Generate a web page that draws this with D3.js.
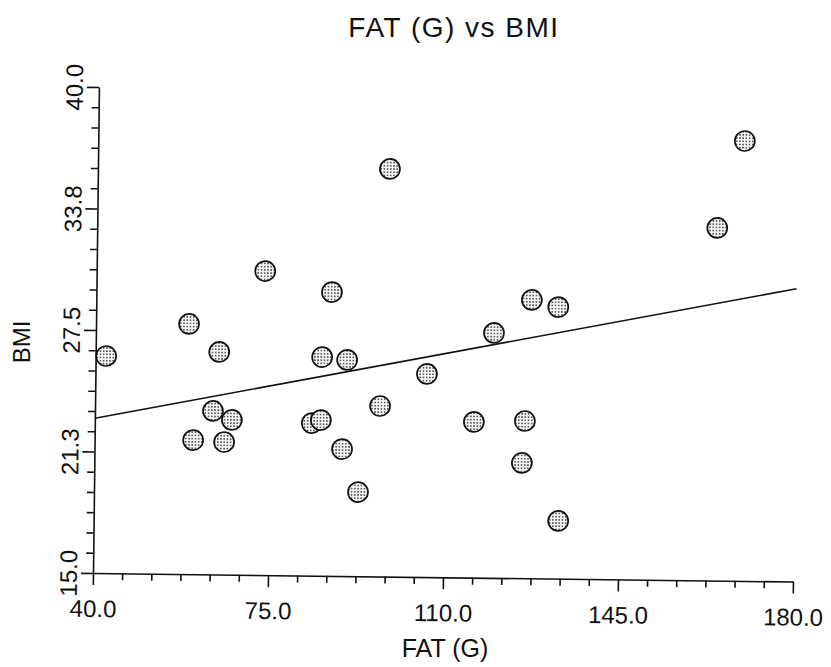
<!DOCTYPE html>
<html>
<head>
<meta charset="utf-8">
<script src="https://cdn.jsdelivr.net/npm/d3@7"></script>
<style>
  html, body { margin: 0; padding: 0; background: #fff; }
  svg { display: block; }
  text { font-family: "Liberation Sans", Arial, Helvetica, sans-serif; fill: #111; }
</style>
</head>
<body>
<div id="chart"></div>
<script>
// ── DATA ─────────────────────────────────────────────────────────────────────
const fatValues = [42.1, 58.6, 59.7, 63.6, 64.7, 65.9, 67.4, 73.7, 83.4, 85.2, 85.3, 87.1, 89.5, 90.3,
                   92.8, 97.0, 98.4, 106.3, 115.8, 119.6, 125.5, 126.0, 127.1, 132.4, 132.9, 164.0, 169.3];
const bmiValues = [26.17, 27.87, 21.90, 23.41, 26.45, 21.82, 22.96, 30.64, 22.85, 23.01, 26.25, 29.60, 21.53, 26.12,
                   19.33, 23.77, 35.97, 25.45, 23.01, 27.60, 20.93, 23.09, 29.32, 28.97, 17.97, 33.14, 37.63];

// fitted line (ends at the axis limits)
const fitFat = [40, 180];
const fitBmi = [22.96, 30.06];

const xTicks      = [40, 75, 110, 145, 180];
const yTicks      = [15, 21.25, 27.5, 33.75, 40];
const yTickLabels = ['15.0', '21.3', '27.5', '33.8', '40.0'];

// ── DIMENSIONS ───────────────────────────────────────────────────────────────
const W = 831, H = 667;
const margin = { top: 87, right: 38, bottom: 94, left: 93 };
const width  = W - margin.left - margin.right;   // 700
const height = H - margin.top  - margin.bottom;  // 486
const TILT   = 0.7;  // the scan sits slightly rotated

const svg = d3.select('#chart')
  .append('svg')
    .attr('width', W)
    .attr('height', H);

const defs = svg.append('defs');
const pat = defs.append('pattern')
  .attr('id', 'stipple')
  .attr('patternUnits', 'userSpaceOnUse')
  .attr('width', 3.2)
  .attr('height', 3.2);
pat.append('rect').attr('width', 3.2).attr('height', 3.2).attr('fill', '#f4f4f4');
pat.append('circle').attr('cx', 1.6).attr('cy', 1.6).attr('r', 0.85).attr('fill', '#333');

const g = svg.append('g')
  .attr('transform', `translate(${margin.left},${margin.top + height}) rotate(${TILT}) translate(0,${-height})`);

// ── SCALES ───────────────────────────────────────────────────────────────────
const x = d3.scaleLinear().domain([40, 180]).range([0, width]);
const y = d3.scaleLinear().domain([15, 40]).range([height, 0]);

const xMinor = d3.range(0, 25).map(i => 40 + i * 35 / 6).filter(v => !xTicks.some(t => Math.abs(t - v) < 1e-6));
const yMinor = d3.range(0, 25).map(i => 15 + i * 6.25 / 6).filter(v => !yTicks.some(t => Math.abs(t - v) < 1e-6));

// ── AXES ─────────────────────────────────────────────────────────────────────
const xAxisG = g.append('g')
  .attr('transform', `translate(0,${height})`)
  .call(d3.axisBottom(x).tickValues(xTicks).tickSize(12).tickSizeOuter(0).tickFormat(d3.format('.1f')));

g.append('g')
  .attr('transform', `translate(0,${height})`)
  .call(d3.axisBottom(x).tickValues(xMinor).tickSize(7).tickFormat(''))
  .call(a => a.select('.domain').remove());

const yAxisG = g.append('g')
  .call(d3.axisLeft(y).tickValues(yTicks).tickSize(12).tickSizeOuter(0).tickFormat((d, i) => yTickLabels[i]));

g.append('g')
  .call(d3.axisLeft(y).tickValues(yMinor).tickSize(7).tickFormat(''))
  .call(a => a.select('.domain').remove());

g.selectAll('.domain, .tick line')
  .attr('stroke', '#111')
  .attr('stroke-width', 1.6);

xAxisG.selectAll('text')
  .attr('y', 44)
  .attr('dy', 0)
  .attr('font-size', 24)
  .attr('font-family', '"Liberation Sans", Arial, sans-serif')
  .attr('fill', '#111');

yAxisG.selectAll('text')
  .attr('transform', 'rotate(-90)')
  .attr('x', 0)
  .attr('y', -16)
  .attr('dy', 0)
  .attr('text-anchor', 'middle')
  .attr('font-size', 24)
  .attr('font-family', '"Liberation Sans", Arial, sans-serif')
  .attr('fill', '#111');

// ── FIT LINE ─────────────────────────────────────────────────────────────────
const line = d3.line().x(d => x(d[0])).y(d => y(d[1]));
g.append('path')
  .datum(fitFat.map((f, i) => [f, fitBmi[i]]))
  .attr('d', line)
  .attr('fill', 'none')
  .attr('stroke', '#111')
  .attr('stroke-width', 1.6);

// ── POINTS ───────────────────────────────────────────────────────────────────
g.selectAll('.pt')
  .data(fatValues.map((f, i) => ({ fat: f, bmi: bmiValues[i] })))
  .join('circle')
    .attr('class', 'pt')
    .attr('cx', d => x(d.fat))
    .attr('cy', d => y(d.bmi))
    .attr('r', 10)
    .attr('fill', 'url(#stipple)')
    .attr('stroke', '#111')
    .attr('stroke-width', 1.7);

// ── TITLES ───────────────────────────────────────────────────────────────────
svg.append('text')
  .attr('x', 454)
  .attr('y', 37)
  .attr('text-anchor', 'middle')
  .attr('font-size', 28)
  .attr('letter-spacing', 1.5)
  .text('FAT (G) vs BMI');

svg.append('text')
  .attr('x', 445)
  .attr('y', 657)
  .attr('text-anchor', 'middle')
  .attr('font-size', 25)
  .text('FAT (G)');

svg.append('text')
  .attr('transform', 'translate(30,342) rotate(-90)')
  .attr('text-anchor', 'middle')
  .attr('font-size', 24)
  .text('BMI');
</script>
</body>
</html>
